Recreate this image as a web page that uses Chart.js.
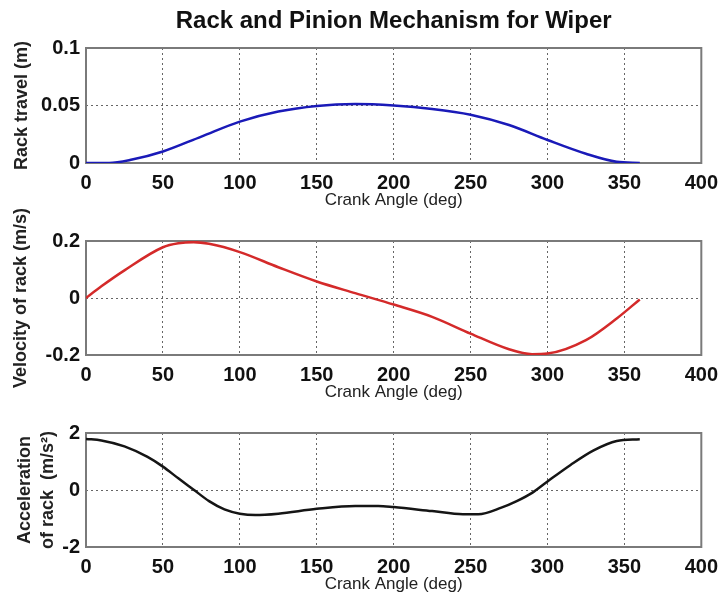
<!DOCTYPE html>
<html>
<head>
<meta charset="utf-8">
<title>Rack and Pinion Mechanism for Wiper</title>
<script src="https://cdn.jsdelivr.net/npm/chart.js@4"></script>
<style>
  html, body { margin: 0; padding: 0; background: #fff; }
  #wrap { position: relative; width: 726px; height: 606px; }
  #wrap canvas { position: absolute; left: 0; top: 0; }
</style>
</head>
<body>
<div id="wrap">
  <canvas id="travel-chart" width="726" height="606"></canvas>
  <canvas id="velocity-chart" width="726" height="606"></canvas>
  <canvas id="accel-chart" width="726" height="606"></canvas>
</div>
<script>
// values (crank angle in degrees)
const travelDeg = [0, 15, 30, 50, 75, 100, 125, 150, 175, 200, 225, 250, 275, 300, 325, 345, 360];
const travel = [0, 0, 0.003, 0.010, 0.023, 0.036, 0.0447, 0.0496, 0.0513, 0.050, 0.047, 0.042, 0.033, 0.020, 0.008, 0.001, 0];

const velocityDeg = [0, 10, 25, 50, 60, 70, 80, 100, 125, 150, 175, 200, 225, 250, 275, 290, 300, 325, 345, 360];
const velocity = [0, 0.041, 0.097, 0.178, 0.192, 0.196, 0.19, 0.161, 0.108, 0.058, 0.017, -0.023, -0.066, -0.125, -0.18, -0.197, -0.195, -0.148, -0.072, -0.005];

const accelDeg = [0, 10, 25, 40, 50, 60, 70, 80, 90, 100, 110, 125, 150, 175, 190, 200, 225, 245, 255, 270, 280, 290, 300, 315, 330, 345, 360];
const accel = [1.79, 1.74, 1.53, 1.16, 0.82, 0.41, 0.01, -0.39, -0.68, -0.83, -0.88, -0.83, -0.66, -0.56, -0.56, -0.60, -0.74, -0.85, -0.85, -0.62, -0.39, -0.10, 0.30, 0.88, 1.39, 1.72, 1.78];

const xTicks = { min: 0, max: 400, step: 50 };
const mainTitle = 'Rack and Pinion Mechanism for Wiper';
const xTitle = 'Crank Angle (deg)';

const font = "'Liberation Sans', Arial, sans-serif";

// box around the plot area, like matlab axes
const framePlugin = {
    id: 'frame',
    beforeDatasetsDraw(chart) {
        const a = chart.chartArea;
        const ctx = chart.ctx;
        ctx.save();
        ctx.strokeStyle = '#7a7a7a';
        ctx.lineWidth = 2;
        ctx.strokeRect(a.left, a.top, a.right - a.left, a.bottom - a.top);
        ctx.restore();
    }
};

function points(xs, ys) {
    return xs.map((x, i) => ({ x: x, y: ys[i] }));
}

function makeChart(id, xs, ys, color, y, yTitle, pad, title) {
    const ctx = document.getElementById(id).getContext('2d');
    return new Chart(ctx, {
        type: 'line',
        data: {
            datasets: [{
                data: points(xs, ys),
                borderColor: color,
                borderWidth: 2.5,
                pointRadius: 0,
                cubicInterpolationMode: 'monotone',
                fill: false
            }]
        },
        options: {
            responsive: false,
            animation: false,
            layout: { padding: { top: pad.top, bottom: pad.bottom, left: 0, right: 21 } },
            plugins: {
                legend: { display: false },
                tooltip: { enabled: false },
                title: {
                    display: !!title,
                    text: title || '',
                    fullSize: false,
                    color: '#111',
                    font: { family: font, size: 24, weight: 'bold', lineHeight: 1 },
                    padding: { top: 9, bottom: 15 }
                }
            },
            scales: {
                x: {
                    type: 'linear',
                    min: xTicks.min,
                    max: xTicks.max,
                    afterFit: s => { s.height = 48; },
                    ticks: {
                        stepSize: xTicks.step,
                        color: '#111',
                        padding: 8,
                        font: { family: font, size: 20, weight: 'bold' }
                    },
                    grid: { color: '#666', lineWidth: 1, drawTicks: false },
                    border: { display: false, dash: [2, 3] },
                    title: {
                        display: true,
                        text: xTitle,
                        color: '#222',
                        font: { family: font, size: 17 },
                        padding: 0
                    }
                },
                y: {
                    min: y.min,
                    max: y.max,
                    afterFit: s => { s.width = 86; },
                    ticks: {
                        stepSize: y.step,
                        color: '#111',
                        padding: 6,
                        font: { family: font, size: 20, weight: 'bold' },
                        callback: v => String(Math.round(v * 1000) / 1000)
                    },
                    grid: { color: '#666', lineWidth: 1, drawTicks: false },
                    border: { display: false, dash: [2, 3] },
                    title: {
                        display: true,
                        text: yTitle,
                        color: '#222',
                        font: { family: font, size: 18, weight: 'bold', lineHeight: 1.25 },
                        padding: { top: y.titlePad, bottom: 0 }
                    }
                }
            }
        },
        plugins: [framePlugin]
    });
}

makeChart('travel-chart', travelDeg, travel, '#1a1ab8',
    { min: 0, max: 0.1, step: 0.05, titlePad: 11 },
    'Rack travel (m)', { top: 0, bottom: 395 }, mainTitle);

makeChart('velocity-chart', velocityDeg, velocity, '#d42a2a',
    { min: -0.2, max: 0.2, step: 0.2, titlePad: 10 },
    'Velocity of rack (m/s)', { top: 241, bottom: 203 });

makeChart('accel-chart', accelDeg, accel, '#151515',
    { min: -2, max: 2, step: 2, titlePad: 14 },
    ['Acceleration', 'of rack  (m/s\u00b2)'], { top: 433, bottom: 11 });
</script>
</body>
</html>
